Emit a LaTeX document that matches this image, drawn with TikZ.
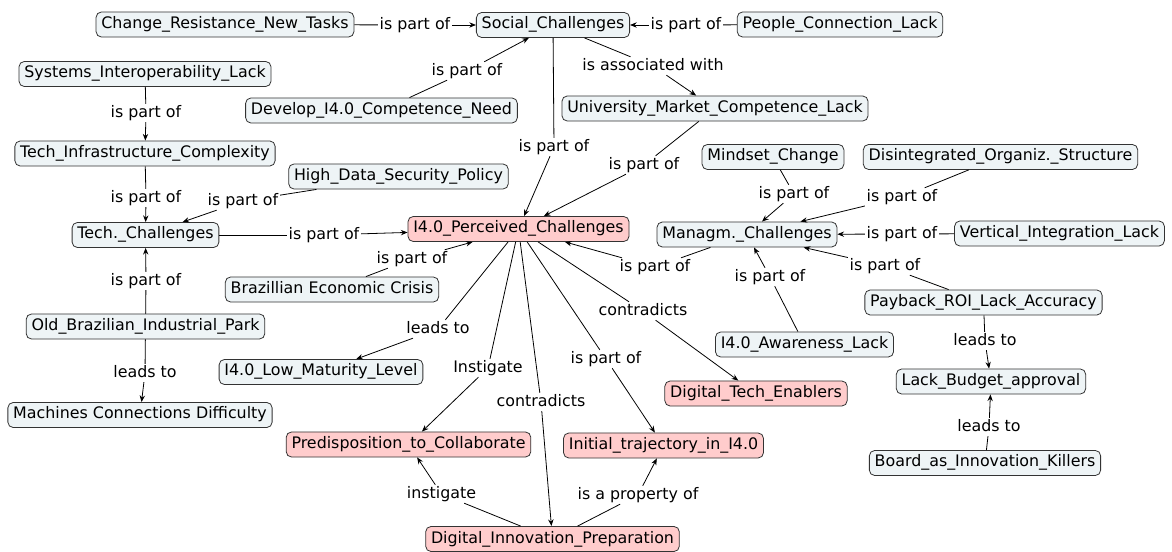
\documentclass[tikz,border=0pt]{standalone}
\usepackage{fontspec}
\setmainfont{DejaVu Sans}
\usepackage{xcolor}
\usepackage{tikz}
\usetikzlibrary{positioning,arrows.meta}

\definecolor{conceptfill}{HTML}{EEF4F6}
\definecolor{keyfill}{HTML}{FFCCCC}
\definecolor{framegray}{HTML}{333333}

\begin{document}
\begin{tikzpicture}[
  x=0.75pt, y=-0.75pt,
  concept/.style={draw=framegray, fill=conceptfill, rounded corners=4pt, line width=0.6pt,
    inner xsep=4pt, inner ysep=3.4pt, text height=9pt, text depth=3pt,
    font=\fontsize{11.9}{14}\selectfont},
  key/.style={concept, fill=keyfill},
  lnk/.style={inner sep=1.2pt, text height=8.6pt, text depth=2.4pt, font=\fontsize{11.9}{14}\selectfont},
  conn/.style={line width=0.6pt},
  arr/.style={conn, -{Stealth[length=5pt,width=4pt]}}
]
\useasboundingbox (0,0) rectangle (1172,552);

% Social challenges
\node[concept] (change) at (225,24.5) {Change\_Resistance\_New\_Tasks};
\node[concept] (social) at (553,25) {Social\_Challenges};
\node[concept] (people) at (840,24.5) {People\_Connection\_Lack};
\node[concept] (develop) at (381.5,110.5) {Develop\_I4.0\_Competence\_Need};
\node[concept] (univ) at (715,108.5) {University\_Market\_Competence\_Lack};

% Tech challenges
\node[concept] (systems) at (145,74) {Systems\_Interoperability\_Lack};
\node[concept] (infra) at (145,153.5) {Tech\_Infrastructure\_Complexity};
\node[concept] (security) at (398.5,176.5) {High\_Data\_Security\_Policy};
\node[concept] (tech) at (145.5,235) {Tech.\_Challenges};
\node[concept] (oldpark) at (145.5,326.5) {Old\_Brazilian\_Industrial\_Park};
\node[concept] (machines) at (140,415) {Machines Connections Difficulty};
\node[concept] (crisis) at (332,289.5) {Brazillian Economic Crisis};
\node[concept] (maturity) at (321,372) {I4.0\_Low\_Maturity\_Level};

% Central concept and its key consequences
\node[key] (perceived) at (518.5,229) {I4.0\_Perceived\_Challenges};
\node[key] (enablers) at (756,393.5) {Digital\_Tech\_Enablers};
\node[key] (predisp) at (408.5,444.5) {Predisposition\_to\_Collaborate};
\node[key] (initial) at (663.5,445.5) {Initial\_trajectory\_in\_I4.0};
\node[key] (prep) at (552.5,539) {Digital\_Innovation\_Preparation};

% Management challenges
\node[concept] (mindset) at (773,157) {Mindset\_Change};
\node[concept] (disint) at (1000.5,157) {Disintegrated\_Organiz.\_Structure};
\node[concept] (managm) at (747,234.5) {Managm.\_Challenges};
\node[concept] (vertical) at (1059.5,233.5) {Vertical\_Integration\_Lack};
\node[concept] (payback) at (983.5,302.5) {Payback\_ROI\_Lack\_Accuracy};
\node[concept] (awareness) at (804.5,344.5) {I4.0\_Awareness\_Lack};
\node[concept] (budget) at (991,381.5) {Lack\_Budget\_approval};
\node[concept] (board) at (985,463) {Board\_as\_Innovation\_Killers};

% Linking phrases
\node[lnk] (l1) at (415,25) {is part of};
\node[lnk] (l2) at (686,25) {is part of};
\node[lnk] (l3) at (467,71) {is part of};
\node[lnk] (l4) at (653,66) {is associated with};
\node[lnk] (l5) at (554,147) {is part of};
\node[lnk] (l6) at (644,165) {is part of};
\node[lnk] (l7) at (146,113) {is part of};
\node[lnk] (l8) at (146,198) {is part of};
\node[lnk] (l9) at (243,201) {is part of};
\node[lnk] (l10) at (324,235) {is part of};
\node[lnk] (l11) at (412,259) {is part of};
\node[lnk] (l12) at (146,281) {is part of};
\node[lnk] (l13) at (145,373) {leads to};
\node[lnk] (l14) at (438,329) {leads to};
\node[lnk] (l15) at (488,368) {Instigate};
\node[lnk] (l16) at (541,402) {contradicts};
\node[lnk] (l17) at (606,359) {is part of};
\node[lnk] (l18) at (643,311) {contradicts};
\node[lnk] (l19) at (655,267) {is part of};
\node[lnk] (l20) at (794,194) {is part of};
\node[lnk] (l21) at (902,197) {is part of};
\node[lnk] (l22) at (902,234) {is part of};
\node[lnk] (l23) at (885,266) {is part of};
\node[lnk] (l24) at (770,277) {is part of};
\node[lnk] (l25) at (985,341) {leads to};
\node[lnk] (l26) at (989,427) {leads to};
\node[lnk] (l27) at (441.5,494) {instigate};
\node[lnk] (l28) at (638,495) {is a property of};

% Connections
\draw[conn] (change) -- (l1); \draw[arr] (l1) -- (social);
\draw[conn] (people) -- (l2); \draw[arr] (l2) -- (social);
\draw[conn] (develop) -- (l3); \draw[arr] (l3) -- (social);
\draw[conn] (social) -- (l4); \draw[arr] (l4) -- (univ);
\draw[conn] (social) -- (l5); \draw[arr] (l5) -- (perceived);
\draw[conn] (univ) -- (l6); \draw[arr] (l6) -- (perceived);
\draw[conn] (systems) -- (l7); \draw[arr] (l7) -- (infra);
\draw[conn] (infra) -- (l8); \draw[arr] (l8) -- (tech);
\draw[conn] (security) -- (l9); \draw[arr] (l9) -- (tech);
\draw[conn] (tech) -- (l10); \draw[arr] (l10) -- (perceived);
\draw[conn] (crisis) -- (l11); \draw[arr] (l11) -- (perceived);
\draw[conn] (oldpark) -- (l12); \draw[arr] (l12) -- (tech);
\draw[conn] (oldpark) -- (l13); \draw[arr] (l13) -- (machines);
\draw[conn] (perceived) -- (l14); \draw[arr] (l14) -- (maturity);
\draw[conn] (perceived) -- (l15); \draw[arr] (l15) -- (predisp);
\draw[conn] (perceived) -- (l16); \draw[arr] (l16) -- (prep);
\draw[conn] (perceived) -- (l17); \draw[arr] (l17) -- (initial);
\draw[conn] (perceived) -- (l18); \draw[arr] (l18) -- (enablers);
\draw[conn] (managm) -- (l19); \draw[arr] (l19) -- (perceived);
\draw[conn] (mindset) -- (l20); \draw[arr] (l20) -- (managm);
\draw[conn] (disint) -- (l21); \draw[arr] (l21) -- (managm);
\draw[conn] (vertical) -- (l22); \draw[arr] (l22) -- (managm);
\draw[conn] (payback) -- (l23); \draw[arr] (l23) -- (managm);
\draw[conn] (awareness) -- (l24); \draw[arr] (l24) -- (managm);
\draw[conn] (payback) -- (l25); \draw[arr] (l25) -- (budget);
\draw[conn] (board) -- (l26); \draw[arr] (l26) -- (budget);
\draw[conn] (prep) -- (l27); \draw[arr] (l27) -- (predisp);
\draw[conn] (prep) -- (l28); \draw[arr] (l28) -- (initial);

\end{tikzpicture}
\end{document}
